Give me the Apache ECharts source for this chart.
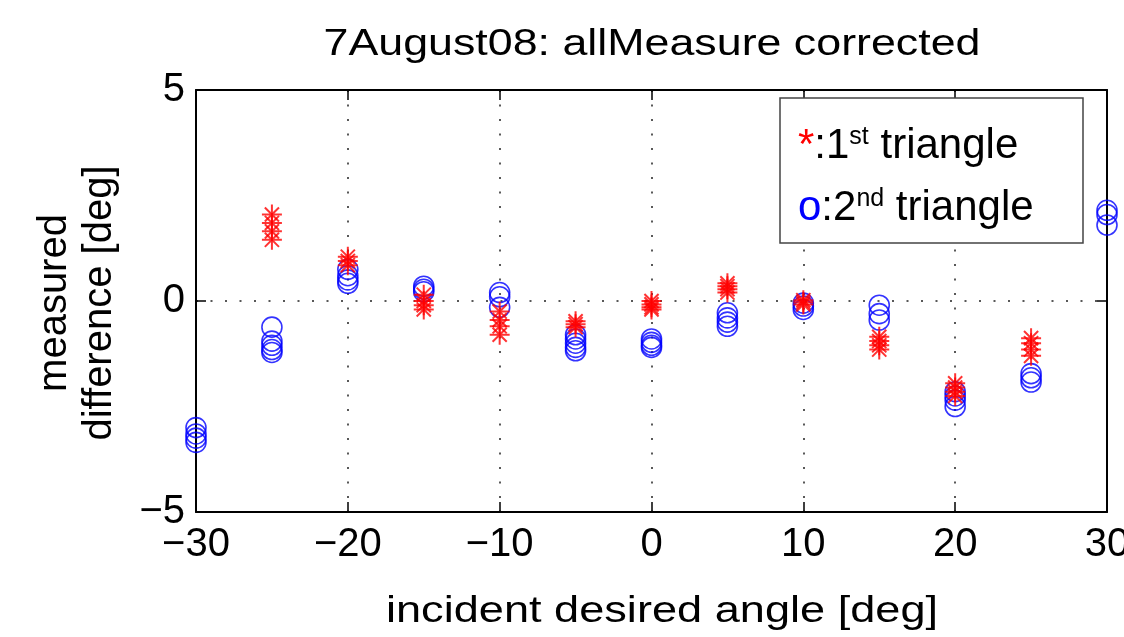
<!DOCTYPE html>
<html>
<head>
<meta charset="utf-8">
<script src="https://cdn.jsdelivr.net/npm/echarts@6/dist/echarts.min.js"></script>
<style>html,body{margin:0;padding:0;background:#fff;}#c{width:1124px;height:637px;}</style>
</head>
<body>
<div id="c"></div>
<script>
// Data
const angles = [-30, -25, -20, -15, -10, -5, 0, 5, 10, 15, 20, 25, 30];
const tri1 = [
  [],
  [2.05, 1.85, 1.65, 1.45],
  [1.05, 0.95, 0.85],
  [0.15, 0.0, -0.1, -0.2],
  [-0.25, -0.45, -0.6, -0.8],
  [-0.48, -0.55, -0.62],
  [0.0, -0.08, -0.15, -0.2],
  [0.42, 0.35, 0.28, 0.2],
  [0.02, -0.03, -0.08],
  [-0.85, -0.95, -1.05, -1.15],
  [-1.95, -2.05, -2.15, -2.25],
  [-0.88, -1.0, -1.15, -1.3],
  []
];
const tri2 = [
  [-3.0, -3.15, -3.25, -3.35],
  [-0.62, -0.95, -1.05, -1.15, -1.22],
  [0.75, 0.6, 0.5, 0.42],
  [0.35, 0.28, 0.22],
  [0.2, 0.1, -0.15],
  [-0.8, -0.9, -1.0, -1.1, -1.18],
  [-0.9, -0.98, -1.05, -1.1],
  [-0.28, -0.4, -0.5, -0.6],
  [-0.05, -0.12, -0.2],
  [-0.1, -0.3, -0.45],
  [-2.15, -2.25, -2.35, -2.5],
  [-1.72, -1.82, -1.92],
  [2.15, 2.05, 1.8]
];
const titleText = '7August08: allMeasure corrected';
const xName = 'incident desired angle [deg]';
const yName = 'measured\ndifference [deg]';

function pairs(groups) {
  const out = [];
  groups.forEach((g, i) => g.forEach(v => out.push([angles[i], v])));
  return out;
}
const FONT = 'Liberation Sans, Arial, Helvetica, sans-serif';
const fmt = v => String(v).replace('-', '\u2212');
const dotted = { color: '#222', width: 1.5, type: [2, 12.5] };
const star = 'path://M0,-1L0,1M-1,0L1,0M-0.7071,-0.7071L0.7071,0.7071M-0.7071,0.7071L0.7071,-0.7071';

const chart = echarts.init(document.getElementById('c'));
chart.setOption({
  backgroundColor: '#fff',
  animation: false,
  grid: { left: 196, right: 17, top: 90, bottom: 125, containLabel: false, outerBoundsMode: 'none' },
  xAxis: [{
    type: 'value', min: -30, max: 30, interval: 10, position: 'bottom',
    axisLine: { onZero: false, lineStyle: { color: '#000', width: 2 } },
    axisTick: { inside: true, length: 10, lineStyle: { color: '#000', width: 1.5 } },
    axisLabel: { formatter: fmt, color: '#000', fontFamily: FONT, fontSize: 40, margin: 13 },
    splitLine: { show: true, lineStyle: dotted }
  }, {
    type: 'value', min: -30, max: 30, interval: 10, position: 'top',
    axisLine: { onZero: false, lineStyle: { color: '#000', width: 2 } },
    axisTick: { inside: true, length: 10, lineStyle: { color: '#000', width: 1.5 } },
    axisLabel: { show: false }, splitLine: { show: false }
  }],
  yAxis: [{
    type: 'value', min: -5, max: 5, interval: 5, position: 'left',
    axisLine: { show: true, onZero: false, lineStyle: { color: '#000', width: 2 } },
    axisTick: { show: true, inside: true, length: 10, lineStyle: { color: '#000', width: 1.5 } },
    axisLabel: { formatter: fmt, color: '#000', fontFamily: FONT, fontSize: 40, margin: 11 },
    splitLine: { show: true, lineStyle: dotted }
  }, {
    type: 'value', min: -5, max: 5, interval: 5, position: 'right',
    axisLine: { show: true, onZero: false, lineStyle: { color: '#000', width: 2 } },
    axisTick: { show: true, inside: true, length: 10, lineStyle: { color: '#000', width: 1.5 } },
    axisLabel: { show: false }, splitLine: { show: false }
  }],
  series: [{
    name: '2nd triangle', type: 'scatter', data: pairs(tri2), clip: false,
    symbol: 'circle', symbolSize: 20,
    itemStyle: { color: 'rgba(0,0,0,0)', borderColor: '#0000ff', borderWidth: 1.6 }, z: 3
  }, {
    name: '1st triangle', type: 'scatter', data: pairs(tri1), clip: false,
    symbol: star, symbolSize: 20,
    itemStyle: { color: 'rgba(0,0,0,0)', borderColor: '#ff0000', borderWidth: 2 }, z: 4
  }],
  graphic: [
    { type: 'text', x: 652, y: 45, scaleX: 1.21, z: 10,
      style: { text: titleText, font: '37px ' + FONT, fill: '#000', align: 'center', verticalAlign: 'middle' } },
    { type: 'text', x: 662, y: 612, scaleX: 1.22, z: 10,
      style: { text: xName, font: '37px ' + FONT, fill: '#000', align: 'center', verticalAlign: 'middle' } },
    { type: 'text', x: 77, y: 303, rotation: Math.PI / 2, z: 10,
      style: { text: yName, font: '40px ' + FONT, fill: '#000', align: 'center', verticalAlign: 'middle', lineHeight: 45 } },
    { type: 'rect', shape: { x: 780, y: 98, width: 303, height: 145 }, z: 20,
      style: { fill: '#fff', stroke: '#444', lineWidth: 1.5 } },
    { type: 'text', x: 798, y: 146, z: 21,
      style: {
        text: '{r|*}{k|:1}{s|st}{k| triangle}', verticalAlign: 'middle', align: 'left',
        rich: {
          r: { fill: '#ff0000', font: '42px ' + FONT },
          k: { fill: '#000', font: '42px ' + FONT },
          s: { fill: '#000', font: '25px ' + FONT, verticalAlign: 'top' }
        }
      } },
    { type: 'text', x: 798, y: 208, z: 21,
      style: {
        text: '{b|o}{k|:2}{s|nd}{k| triangle}', verticalAlign: 'middle', align: 'left',
        rich: {
          b: { fill: '#0000ff', font: '42px ' + FONT },
          k: { fill: '#000', font: '42px ' + FONT },
          s: { fill: '#000', font: '25px ' + FONT, verticalAlign: 'top' }
        }
      } }
  ]
});
</script>
</body>
</html>
